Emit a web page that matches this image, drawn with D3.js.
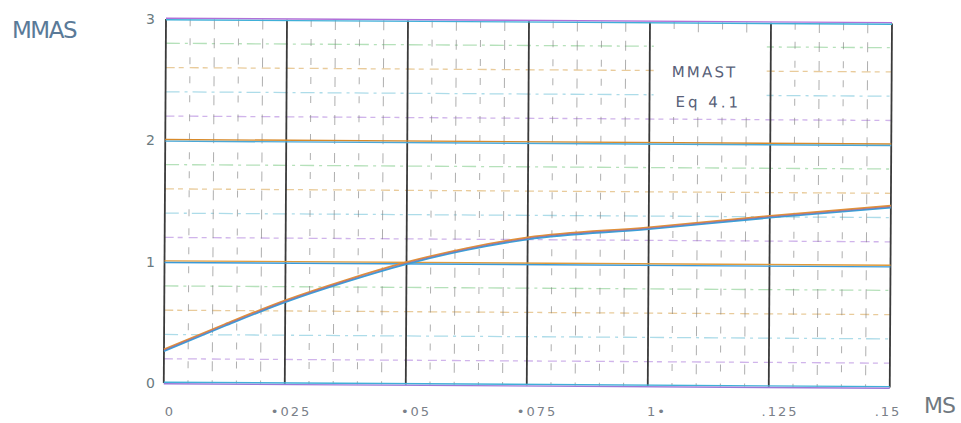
<!DOCTYPE html>
<html>
<head>
<meta charset="utf-8">
<script src="https://cdn.jsdelivr.net/npm/d3@7"></script>
<style>
  html, body { margin: 0; padding: 0; background: #ffffff; }
  svg { display: block; }
  text { font-family: "DejaVu Sans", sans-serif; }
</style>
</head>
<body>
<svg id="chart" width="961" height="423"></svg>
<script>
// ---- data ----
const msValues   = [0, 0.0125, 0.025, 0.0375, 0.05, 0.0625, 0.075, 0.1, 0.125, 0.15];
const mmasValues = [0.27, 0.48, 0.68, 0.85, 1.0, 1.12, 1.21, 1.30, 1.40, 1.49];
const xTickValues = [0, 0.025, 0.05, 0.075, 0.1, 0.125, 0.15];
const xTickLabels = ["0", "•025", "•05", "•075", "1•", ".125", ".15"];
const yTickValues = [0, 1, 2, 3];
const yTickLabels = ["0", "1", "2", "3"];
const legendLines = ["MMAST", "Eq 4.1"];
const yAxisTitle = "MMAS";
const xAxisTitle = "MS";

// ---- layout ----
const svg = d3.select("#chart");
const pLeft = 166, pRight = 892, pTop = 19, pBottom = 383;
const x = d3.scaleLinear().domain([0, 0.15]).range([pLeft, pRight]);
const y = d3.scaleLinear().domain([0, 3]).range([pBottom, pTop]);
const xLabelShift = [4, 4, 8, 8, 7, 9, -4];

const plot = svg.append("g").attr("transform", `rotate(0.35, ${pLeft}, ${pTop})`);

// minor horizontal grid (every 0.2)
const minorY = d3.range(0, 3.0001, 0.2).filter(v => Math.abs(v - Math.round(v)) > 1e-6);
const minorColors = ["#c8a8e8", "#9fd6e6", "#e6c38a", "#a9dcae"];
plot.append("g").selectAll("line").data(minorY).join("line")
  .attr("x1", pLeft).attr("x2", pRight)
  .attr("y1", d => y(d)).attr("y2", d => y(d))
  .attr("stroke", (d, i) => minorColors[i % minorColors.length])
  .attr("stroke-width", 1.3)
  .attr("stroke-dasharray", (d, i) => i % 2 ? "14,5,3,5" : "9,4,5,6")
  .attr("opacity", 0.85);

// minor vertical grid (every 0.005)
const minorX = d3.range(0, 0.15001, 0.005).filter(v => Math.abs(v / 0.025 - Math.round(v / 0.025)) > 1e-6);
plot.append("g").selectAll("line").data(minorX).join("line")
  .attr("x1", d => x(d)).attr("x2", d => x(d))
  .attr("y1", pTop).attr("y2", pBottom)
  .attr("stroke", "#7a7a7a")
  .attr("stroke-width", 1)
  .attr("stroke-dasharray", (d, i) => i % 2 ? "10,9" : "7,12")
  .attr("opacity", 0.6);

// legend box (white patch)
plot.append("rect")
  .attr("x", x(0.1) + 4).attr("y", y(2.86))
  .attr("width", x(0.125) - x(0.1) - 8).attr("height", y(2.28) - y(2.86))
  .attr("fill", "#ffffff");

// major vertical grid
plot.append("g").selectAll("line").data(xTickValues).join("line")
  .attr("x1", d => x(d)).attr("x2", d => x(d))
  .attr("y1", pTop).attr("y2", pBottom)
  .attr("stroke", "#3a3a3a")
  .attr("stroke-width", 1.8);

// major horizontal grid (double coloured scan look)
const majorG = plot.append("g");
majorG.selectAll("line.a").data(yTickValues).join("line").attr("class", "a")
  .attr("x1", pLeft).attr("x2", pRight)
  .attr("y1", d => y(d) - 0.8).attr("y2", d => y(d) - 0.8)
  .attr("stroke", (d, i) => ["#3fb0d8", "#e09a3a", "#d88a2a", "#b070d8"][i])
  .attr("stroke-width", 1.4);
majorG.selectAll("line.b").data(yTickValues).join("line").attr("class", "b")
  .attr("x1", pLeft).attr("x2", pRight)
  .attr("y1", d => y(d) + 0.8).attr("y2", d => y(d) + 0.8)
  .attr("stroke", (d, i) => ["#9c78d8", "#3a9ad8", "#4aa8d8", "#3fb0d8"][i])
  .attr("stroke-width", 1.4);

// curve
const pts = msValues.map((v, i) => [v, mmasValues[i]]);
const line = d3.line().x(d => x(d[0])).y(d => y(d[1])).curve(d3.curveMonotoneX);
plot.append("path").datum(pts).attr("d", line)
  .attr("fill", "none").attr("stroke", "#e0903a").attr("stroke-width", 1.8)
  .attr("transform", "translate(0,-0.9)");
plot.append("path").datum(pts).attr("d", line)
  .attr("fill", "none").attr("stroke", "#3aa0d8").attr("stroke-width", 1.8)
  .attr("transform", "translate(0,0.9)");
plot.append("path").datum(pts).attr("d", line)
  .attr("fill", "none").attr("stroke", "#a0609a").attr("stroke-width", 1.0)
  .attr("opacity", 0.7);

// legend text
const legG = plot.append("g");
legG.selectAll("text").data(legendLines).join("text")
  .attr("x", (d, i) => x(0.1) + (i ? 26 : 22))
  .attr("y", (d, i) => 74 + i * 30)
  .attr("fill", "#586078")
  .attr("font-family", "Liberation Sans, sans-serif")
  .attr("font-size", 15)
  .attr("letter-spacing", (d, i) => i ? 3 : 2.2)
  .text(d => d);

// y tick labels
svg.append("g").selectAll("text").data(yTickValues).join("text")
  .attr("x", 155).attr("y", d => y(d) + 5)
  .attr("text-anchor", "end")
  .attr("fill", "#6a7a80")
  .attr("font-family", "Liberation Sans, sans-serif")
  .attr("font-size", 14)
  .text((d, i) => yTickLabels[i]);

// x tick labels
svg.append("g").selectAll("text").data(xTickValues).join("text")
  .attr("x", (d, i) => x(d) + xLabelShift[i])
  .attr("y", 416)
  .attr("text-anchor", "middle")
  .attr("fill", "#7a8088")
  .attr("font-family", "Liberation Sans, sans-serif")
  .attr("font-size", 13)
  .attr("letter-spacing", 2)
  .text((d, i) => xTickLabels[i]);

// axis titles
svg.append("text").attr("x", 12).attr("y", 38)
  .attr("fill", "#5a7a98")
  .attr("font-family", "Liberation Sans, sans-serif")
  .attr("font-size", 23).attr("letter-spacing", -1.5)
  .text(yAxisTitle);
svg.append("text").attr("x", 924).attr("y", 413)
  .attr("fill", "#707880")
  .attr("font-family", "Liberation Sans, sans-serif")
  .attr("font-size", 22).attr("letter-spacing", -1)
  .text(xAxisTitle);
</script>
</body>
</html>
